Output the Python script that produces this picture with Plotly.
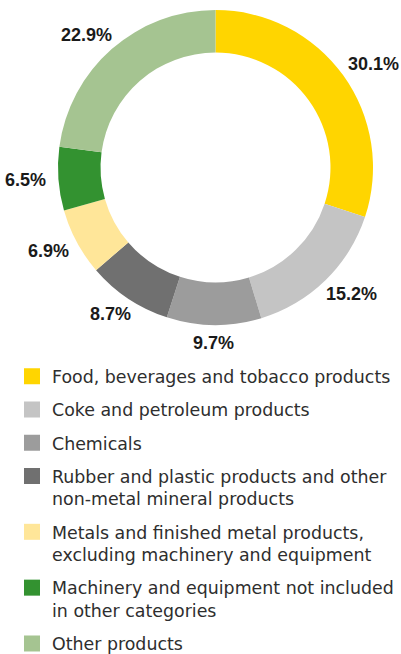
import math
import plotly.graph_objects as go

labels = [
    "Food, beverages and tobacco products",
    "Coke and petroleum products",
    "Chemicals",
    "Rubber and plastic products and other<br>non-metal mineral products",
    "Metals and finished metal products,<br>excluding machinery and equipment",
    "Machinery and equipment not included<br>in other categories",
    "Other products",
]
values = [30.1, 15.2, 9.7, 8.7, 6.9, 6.5, 22.9]
colors = ["#FFD500", "#C4C4C4", "#9C9C9C", "#707070", "#FFE699", "#339230", "#A5C491"]

W, H = 401, 654
CX, CY, R = 215.5, 167.5, 157.5
LABEL_FONT = "Liberation Sans"
LABEL_SIZE = 18
LEGEND_FONT = "DejaVu Sans"

fig = go.Figure()
fig.add_trace(go.Pie(
    labels=labels, values=values, sort=False, direction="clockwise", rotation=0,
    hole=0.73, marker=dict(colors=colors, line=dict(width=0)),
    textinfo="none", hoverinfo="label+value", showlegend=False,
    domain=dict(x=[(CX - R) / W, (CX + R) / W], y=[1 - (CY + R) / H, 1 - (CY - R) / H]),
))

# legend entries (one group per entry so spacing can be controlled)
for i, (lab, col) in enumerate(zip(labels, colors)):
    fig.add_trace(go.Scatter(
        x=[None], y=[None], mode="markers", name=lab, legendgroup=f"g{i}",
        marker=dict(symbol="square", size=16, color=col), hoverinfo="skip",
    ))

CHAR_EM = {".": 0.278, "%": 0.889}


def text_width(t):
    return sum(CHAR_EM.get(ch, 0.556) for ch in t) * LABEL_SIZE


total = sum(values)
cum = 0
annotations = []
GAP = 12
TH = 13
for v in values:
    mid = (cum + v / 2) / total * 2 * math.pi
    cum += v
    s, c = math.sin(mid), math.cos(mid)
    txt = f"{v:.1f}%"
    w = text_width(txt)
    px = CX + (R + GAP) * s + (w / 2) * s
    py = CY - (R + GAP) * c - (TH / 2) * c
    annotations.append(dict(
        x=px / W, y=1 - py / H, xref="paper", yref="paper", showarrow=False,
        text=f"<b>{txt}</b>", xanchor="center", yanchor="middle",
        font=dict(family=LABEL_FONT, size=LABEL_SIZE, color="#1a1a1a"),
    ))

fig.update_layout(
    width=W, height=H, margin=dict(l=0, r=0, t=0, b=0, autoexpand=False),
    paper_bgcolor="white", plot_bgcolor="white",
    showlegend=True, annotations=annotations,
    xaxis=dict(visible=False), yaxis=dict(visible=False),
    legend=dict(x=12 / W, y=1 - 358.5 / H, xanchor="left", yanchor="top",
                font=dict(family=LEGEND_FONT, size=17.4, color="#2e2e2e"),
                traceorder="grouped", tracegroupgap=7.6, itemclick=False,
                itemsizing="trace", valign="top"),
    font=dict(family=LEGEND_FONT),
)

fig.write_html("out.html", config={"displayModeBar": False},
               post_script="document.body.style.margin='0px';")
